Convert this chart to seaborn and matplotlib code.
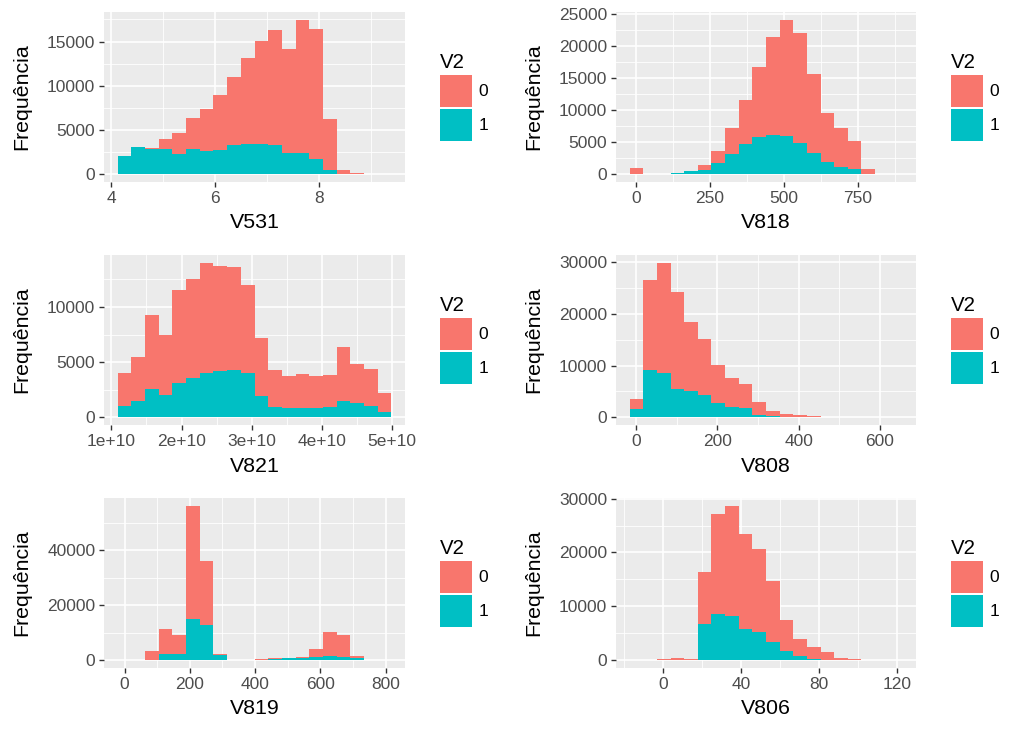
import numpy as np
import pandas as pd
import matplotlib
matplotlib.use("Agg")
import matplotlib.pyplot as plt
import seaborn as sns
from matplotlib.patches import Patch
from matplotlib.ticker import FixedLocator, FixedFormatter

# ---------------- data (counts per bin, 20 bins each) ----------------
V2_levels = ["0", "1"]
V2_colors = ["#F8766D", "#00BFC4"]

V531_start, V531_width = 4.122, 0.263
V531_n0 = [0, 0, 70, 1140, 2390, 3520, 4810, 6210, 7690, 9690, 11670, 13070, 11810, 15110, 14700, 5760, 530, 150, 0, 0]
V531_n1 = [2008, 3070, 2880, 2840, 2270, 2840, 2610, 2690, 3260, 3410, 3410, 3260, 2390, 2350, 1700, 530, 0, 0, 0, 0]

V818_start, V818_width = -22.6, 46.2
V818_n0 = [940, 0, 20, 30, 55, 790, 1930, 3930, 6900, 10930, 15270, 18150, 17160, 12340, 7635, 6020, 4450, 730, 0, 0]
V818_n1 = [0, 0, 60, 180, 520, 730, 1730, 3240, 4760, 5860, 6070, 5960, 4860, 3300, 1935, 1150, 780, 50, 0, 0]

V821_start, V821_width = 1.09e10, 0.195e10
V821_n0 = [3010, 4040, 6750, 5440, 8390, 9030, 10000, 9540, 9330, 8000, 5250, 3350, 2830, 3040, 2830, 2920, 4860, 3580, 3350, 1700]
V821_n1 = [1000, 1460, 2550, 2040, 3130, 3530, 4010, 4200, 4290, 3980, 1950, 910, 880, 880, 880, 940, 1490, 1250, 1030, 520]

V808_start, V808_width = -16.4, 33.6
V808_n0 = [1940, 17450, 21420, 18760, 13440, 10840, 7460, 5580, 4740, 2530, 970, 610, 400, 180, 60, 0, 0, 0, 0, 0]
V808_n1 = [1690, 9220, 8500, 5450, 5060, 4220, 2730, 2080, 1750, 520, 200, 100, 50, 20, 0, 0, 0, 0, 0, 0]

V819_start, V819_width = -21.4, 41.96
V819_n0 = [0, 0, 3280, 9110, 7050, 41180, 23340, 370, 0, 0, 250, 370, 120, 370, 2920, 8640, 8140, 490, 0, 0]
V819_n1 = [0, 0, 0, 2190, 2190, 15000, 12650, 1820, 0, 0, 240, 360, 850, 970, 1090, 1700, 1220, 970, 0, 0]

V806_start, V806_width = -17.1, 6.98
V806_n0 = [0, 0, 250, 500, 150, 9640, 18480, 20460, 17660, 15420, 11260, 5790, 3170, 2240, 1510, 500, 190, 0, 0, 0]
V806_n1 = [0, 0, 0, 0, 0, 6720, 8580, 8210, 5850, 5290, 3360, 1740, 750, 310, 50, 0, 0, 0, 0, 0]

# tick breaks / labels
V531_xticks = [4, 6, 8]
V531_yticks = [0, 5000, 10000, 15000]
V818_xticks = [0, 250, 500, 750]
V818_yticks = [0, 5000, 10000, 15000, 20000, 25000]
V821_xticks = [1e10, 2e10, 3e10, 4e10, 5e10]
V821_xlabels = ["1e+10", "2e+10", "3e+10", "4e+10", "5e+10"]
V821_yticks = [0, 5000, 10000]
V808_xticks = [0, 200, 400, 600]
V808_yticks = [0, 10000, 20000, 30000]
V819_xticks = [0, 200, 400, 600, 800]
V819_yticks = [0, 20000, 40000]
V806_xticks = [0, 40, 80, 120]
V806_yticks = [0, 10000, 20000, 30000]

panels = [
    ("V531", V531_start, V531_width, V531_n0, V531_n1, V531_xticks, None, V531_yticks),
    ("V818", V818_start, V818_width, V818_n0, V818_n1, V818_xticks, None, V818_yticks),
    ("V821", V821_start, V821_width, V821_n0, V821_n1, V821_xticks, V821_xlabels, V821_yticks),
    ("V808", V808_start, V808_width, V808_n0, V808_n1, V808_xticks, None, V808_yticks),
    ("V819", V819_start, V819_width, V819_n0, V819_n1, V819_xticks, None, V819_yticks),
    ("V806", V806_start, V806_width, V806_n0, V806_n1, V806_xticks, None, V806_yticks),
]

# ---------------- style ----------------
plt.rcParams["font.family"] = ["Liberation Sans", "DejaVu Sans"]
W, H = 1023, 731
fig = plt.figure(figsize=(W / 100, H / 100), dpi=100)
fig.patch.set_facecolor("white")

cols = [(104, 301), (616, 300)]
rows = [(12, 182), (255, 425), (498, 668)]
palette = dict(zip(V2_levels, V2_colors))


def minor_between(ticks, lo, hi):
    step = ticks[1] - ticks[0]
    cands = [ticks[0] - step / 2] + [t + step / 2 for t in ticks]
    return [c for c in cands if lo <= c <= hi]


for i, (name, start, width, n0, n1, xt, xl, yt) in enumerate(panels):
    r, c = divmod(i, 2)
    x0, w = cols[c]
    top, bot = rows[r]
    ax = fig.add_axes([x0 / W, 1 - bot / H, w / W, (bot - top) / H])

    nb = len(n0)
    lo_edge = float(start)
    hi_edge = float(start + width * nb)
    centers = start + width * (np.arange(nb) + 0.5)
    df = pd.DataFrame({
        "x": np.concatenate([centers, centers]),
        "n": np.concatenate([n0, n1]).astype(float),
        "V2": [V2_levels[0]] * nb + [V2_levels[1]] * nb,
    })
    sns.histplot(data=df, x="x", weights="n", hue="V2", hue_order=V2_levels,
                 bins=nb, binrange=(lo_edge, hi_edge), multiple="stack",
                 palette=palette, alpha=1, linewidth=0, edgecolor="none",
                 legend=False, ax=ax)

    # ggplot-like expansion
    span = hi_edge - lo_edge
    xlo, xhi = lo_edge - 0.05 * span, hi_edge + 0.05 * span
    tot = np.array(n0) + np.array(n1)
    ymax = tot.max()
    ylo, yhi = -0.05 * ymax, ymax * 1.05
    ax.set_xlim(xlo, xhi)
    ax.set_ylim(ylo, yhi)

    ax.set_facecolor("#EBEBEB")
    for s in ax.spines.values():
        s.set_visible(False)
    ax.xaxis.set_major_locator(FixedLocator(xt))
    ax.yaxis.set_major_locator(FixedLocator(yt))
    ax.xaxis.set_minor_locator(FixedLocator(minor_between(xt, xlo, xhi)))
    ax.yaxis.set_minor_locator(FixedLocator(minor_between(yt, ylo, yhi)))
    if xl is not None:
        ax.xaxis.set_major_formatter(FixedFormatter(xl))
    else:
        ax.xaxis.set_major_formatter(FixedFormatter([f"{t:g}" for t in xt]))
    ax.yaxis.set_major_formatter(FixedFormatter([f"{int(t)}" for t in yt]))
    ax.set_axisbelow(True)
    ax.grid(which="major", color="white", linewidth=1.2)
    ax.grid(which="minor", color="white", linewidth=0.6)
    ax.tick_params(which="major", length=3.8, width=1.0, color="#333333",
                   labelsize=12.5, labelcolor="#4D4D4D", pad=2.5)
    ax.tick_params(which="minor", length=0)

    ax.set_xlabel(name, fontsize=15.4, color="black")
    ax.set_ylabel("Frequência", fontsize=15.4, color="black")
    ax.xaxis.set_label_coords(0.5, -(41) / (bot - top))
    ax.xaxis.label.set_va("center")
    ax.yaxis.set_label_coords(-(82) / w, 0.5)
    ax.yaxis.label.set_va("center")

    handles = [Patch(facecolor=col, edgecolor="none") for col in V2_colors]
    leg = ax.legend(handles, V2_levels, title="V2", loc="center left",
                    bbox_to_anchor=(1 + 35 / w, 0.5), frameon=False,
                    fontsize=12.5, title_fontsize=14.7, handlelength=1.87,
                    handleheight=2.43, labelspacing=0.15, handletextpad=0.35,
                    borderpad=0, borderaxespad=0, alignment="left")

fig.savefig("out.png", dpi=100)
